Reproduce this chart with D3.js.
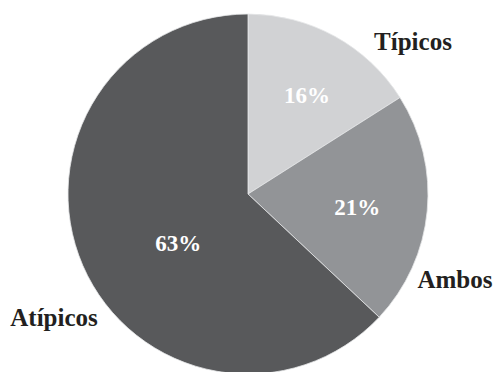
<!DOCTYPE html>
<html>
<head>
<meta charset="utf-8">
<script src="https://cdn.jsdelivr.net/npm/d3@7"></script>
<style>
  html, body { margin: 0; padding: 0; background: #fff; }
  svg { display: block; }
</style>
</head>
<body>
<div id="chart"></div>
<script>
// Share of cases by symptom profile (%)
const categories = ["Típicos", "Ambos", "Atípicos"];
const values = [16, 21, 63];
const colors = ["#d1d2d4", "#929497", "#58595b"];

const width = 498, height = 372;
const cx = 248, cy = 194, radius = 180;
const fontFamily = "'Liberation Serif', 'Times New Roman', Times, serif";

// Name label placement (outside the pie)
const nameLayout = [
  { x: 413, y: 50, anchor: "middle" },
  { x: 455, y: 288, anchor: "middle" },
  { x: 54, y: 326, anchor: "middle" }
];
// Value label radial nudges from the slice centroid
const valueLayout = [
  { r: 115, da: 2 },
  { r: 110, da: 1.5 },
  { r: 85, da: -11.5 }
];

const svg = d3.select("#chart").append("svg")
  .attr("width", width).attr("height", height);

const g = svg.append("g").attr("transform", `translate(${cx},${cy})`);

const pie = d3.pie().sort(null).value(d => d.value);
const arcs = pie(categories.map((c, i) => ({ name: c, value: values[i], color: colors[i] })));

const arc = d3.arc().innerRadius(0).outerRadius(radius);

g.selectAll("path.slice")
  .data(arcs)
  .join("path")
  .attr("class", "slice")
  .attr("d", arc)
  .attr("fill", d => d.data.color)
  .attr("stroke", "#e6e7e8")
  .attr("stroke-width", 0.8);

g.selectAll("text.value")
  .data(arcs)
  .join("text")
  .attr("class", "value")
  .attr("transform", (d, i) => {
    const l = valueLayout[i];
    const a = (d.startAngle + d.endAngle) / 2 + l.da * Math.PI / 180;
    return `translate(${l.r * Math.sin(a)},${-l.r * Math.cos(a)})`;
  })
  .attr("text-anchor", "middle")
  .attr("dy", "0.35em")
  .attr("fill", "#ffffff")
  .attr("font-family", fontFamily)
  .attr("font-weight", "bold")
  .attr("font-size", 23)
  .text(d => d.data.value + "%");

svg.selectAll("text.name")
  .data(arcs)
  .join("text")
  .attr("class", "name")
  .attr("x", (d, i) => nameLayout[i].x)
  .attr("y", (d, i) => nameLayout[i].y)
  .attr("text-anchor", (d, i) => nameLayout[i].anchor)
  .attr("fill", "#231f20")
  .attr("font-family", fontFamily)
  .attr("font-weight", "bold")
  .attr("font-size", 25)
  .text(d => d.data.name);
</script>
</body>
</html>
